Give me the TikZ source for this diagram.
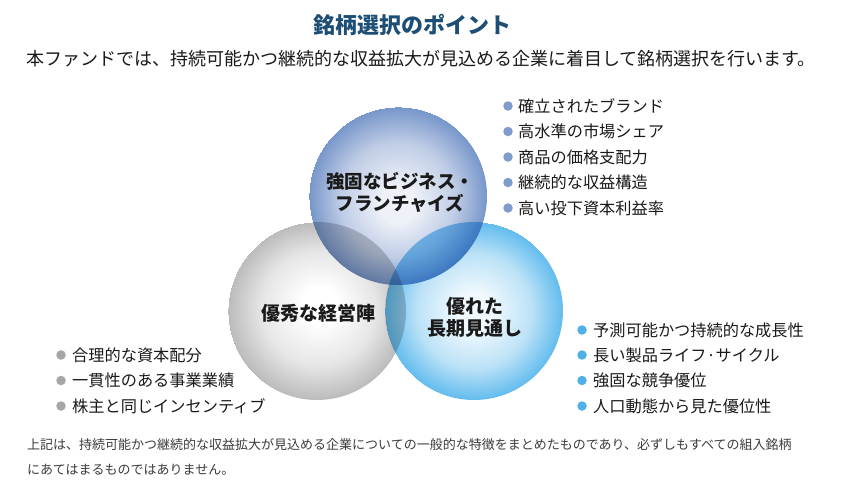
\documentclass[tikz,border=0pt]{standalone}
\usepackage{fontspec}
\setmainfont{Noto Sans CJK JP}
\definecolor{titlec}{HTML}{1D4E75}
\definecolor{txt}{HTML}{1A1A1A}
\definecolor{topbul}{HTML}{7F9CCC}
\definecolor{graybul}{HTML}{A6A6A6}
\definecolor{bluebul}{HTML}{4FB0E6}
\definecolor{topin}{HTML}{EEF1F8}
\definecolor{topmid}{HTML}{C0CDE6}
\definecolor{topout}{HTML}{7796CA}
\definecolor{grin}{HTML}{FFFFFF}
\definecolor{grmid}{HTML}{E6E6E6}
\definecolor{grout}{HTML}{BBBBBB}
\definecolor{blin}{HTML}{F0F9FE}
\definecolor{blmid}{HTML}{BCE2F7}
\definecolor{blout}{HTML}{62BCEE}
\definecolor{grfac}{HTML}{CDCDCD}
\definecolor{blfac}{HTML}{84CBF2}
\pgfdeclareradialshading{topshade}{\pgfpoint{0bp}{-6bp}}{color(0bp)=(topin); color(10bp)=(topin); color(32bp)=(topmid); color(50bp)=(topout)}
\pgfdeclareradialshading{grayshade}{\pgfpoint{2bp}{4bp}}{color(0bp)=(grin); color(10bp)=(grin); color(32bp)=(grmid); color(50bp)=(grout)}
\pgfdeclareradialshading{blueshade}{\pgfpoint{0bp}{0bp}}{color(0bp)=(blin); color(10bp)=(blin); color(32bp)=(blmid); color(50bp)=(blout)}
\tikzset{
  bigcirc/.style={circle, minimum size=178pt, inner sep=0pt},
  clabel/.style={font=\fontsize{18.5}{22}\selectfont\bfseries, text=txt, align=center, inner sep=0pt},
  item/.style={font=\fontsize{16.2}{19}\selectfont, text=txt, anchor=west, inner sep=0pt},
  bul/.style={circle, fill=#1, minimum size=9.5pt, inner sep=0pt},
  note/.style={font=\fontsize{13}{16}\selectfont, text=txt!85, anchor=west, inner sep=0pt},
  mult/.style={fill=#1, blend mode=multiply}
}
\newcommand{\shadedisk}[2]{%
  \begin{scope}
    \clip (#1.center) circle (89);
    \begin{scope}[shift={(#1.center)}]
      \pgftransformscale{1.775}\pgflowlevelsynccm\pgfuseshading{#2}
    \end{scope}
  \end{scope}}
\newcommand{\overlapfill}[3]{%
  \begin{scope}
    \clip (#1.center) circle (89);
    \fill[mult=#3] (#2.center) circle (89);
  \end{scope}}
\begin{document}
\begin{tikzpicture}[x=1pt,y=-1pt]
\useasboundingbox[fill=white] (0,0) rectangle (841,490);
% title
\node[font=\fontsize{22}{26}\selectfont\bfseries, text=titlec, inner sep=0pt] (title) at (412,25) {銘柄選択のポイント};
\node[font=\fontsize{18}{21}\selectfont, text=txt, anchor=west, inner sep=0pt] (sub) at (26,59) {本ファンドでは、持続可能かつ継続的な収益拡大が見込める企業に着目して銘柄選択を行います。};
% circles
\node[bigcirc] (cg) at (317,311) {};
\node[bigcirc] (cb) at (474,311) {};
\node[bigcirc] (ct) at (398,196) {};
\shadedisk{cg}{grayshade}
\shadedisk{cb}{blueshade}
\overlapfill{cg}{cb}{grfac}
\shadedisk{ct}{topshade}
\overlapfill{cg}{ct}{grfac}
\overlapfill{cb}{ct}{blfac}
% circle labels
\node[clabel] (lt) at (400,192) {強固なビジネス・\\フランチャイズ};
\node[clabel, font=\fontsize{19}{22}\selectfont\bfseries] (lg) at (318,313) {優秀な経営陣};
\node[clabel, font=\fontsize{19}{22}\selectfont\bfseries] (lb) at (475,317) {優れた\\長期見通し};
% top list
\foreach \i/\t/\y in {1/確立されたブランド/106, 2/高水準の市場シェア/131.5, 3/商品の価格支配力/157, 4/継続的な収益構造/182.5, 5/高い投下資本利益率/208}{
  \node[bul=topbul] (tb\i) at (508,\y) {};
  \node[item] (tt\i) at (518,\y) {\t};
}
% left list
\foreach \i/\t/\y in {1/合理的な資本配分/355, 2/一貫性のある事業業績/380.5, 3/株主と同じインセンティブ/406}{
  \node[bul=graybul] (gb\i) at (61,\y) {};
  \node[item] (gt\i) at (72,\y) {\t};
}
% right list
\foreach \i/\t/\y in {1/予測可能かつ持続的な成長性/330, 2/長い製品ライフ·サイクル/355, 3/強固な競争優位/380.5, 4/人口動態から見た優位性/406}{
  \node[bul=bluebul] (bb\i) at (582,\y) {};
  \node[item] (bt\i) at (593,\y) {\t};
}
% note
\node[note] (n1) at (27,445) {上記は、持続可能かつ継続的な収益拡大が見込める企業についての一般的な特徴をまとめたものであり、必ずしもすべての組入銘柄};
\node[note] (n2) at (27,470) {にあてはまるものではありません。};
\end{tikzpicture}
\end{document}
